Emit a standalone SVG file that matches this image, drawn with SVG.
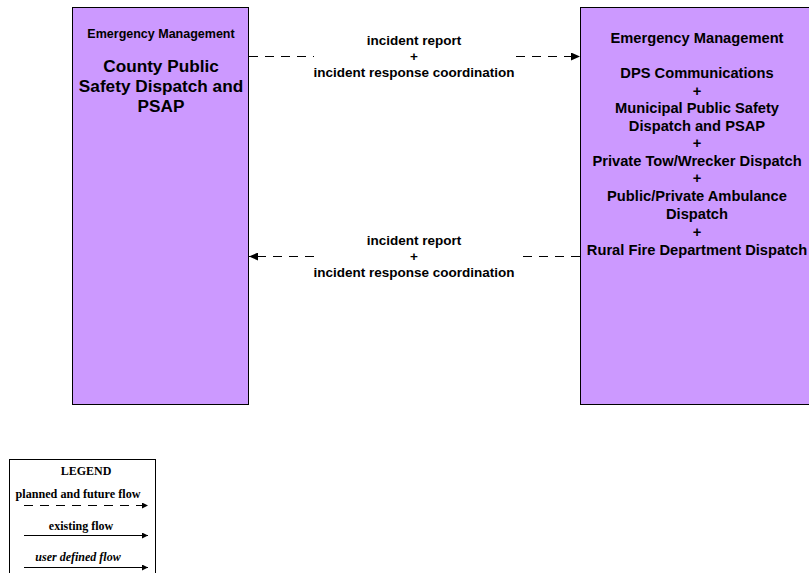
<svg xmlns="http://www.w3.org/2000/svg" width="809" height="573" viewBox="0 0 809 573">
<style>
.box{fill:#CC99FF;stroke:#000;stroke-width:1}
.t{font-family:"Liberation Sans",Arial,sans-serif;font-weight:bold;text-anchor:middle;fill:#000}
.lg{font-family:"Liberation Serif","Times New Roman",serif;font-weight:bold;text-anchor:middle;fill:#000;font-size:12px}
.dash{stroke:#000;stroke-width:1;fill:none;stroke-dasharray:9,7}
.solid{stroke:#000;stroke-width:1;fill:none}
</style>
<defs>
<marker id="ah" markerWidth="10" markerHeight="8" refX="9" refY="4" orient="auto" markerUnits="userSpaceOnUse">
<path d="M0,0 L9,4 L0,8 Z" fill="#000"/>
</marker>
<marker id="ahs" markerWidth="7" markerHeight="6" refX="6" refY="3" orient="auto" markerUnits="userSpaceOnUse">
<path d="M0,0 L6,3 L0,6 Z" fill="#000"/>
</marker>
</defs>
<g id="county">
<rect class="box" x="72.5" y="7.5" width="176" height="397"/>
<text class="t" x="161" y="38" font-size="12.5">Emergency Management</text>
<text class="t" x="161" y="72" font-size="17.2">County Public</text>
<text class="t" x="161" y="92" font-size="17.2">Safety Dispatch and</text>
<text class="t" x="161" y="112" font-size="17.2">PSAP</text>
</g>
<g id="emergency">
<rect class="box" x="580.5" y="7.5" width="234" height="397"/>
<text class="t" x="697" y="43" font-size="14.7">Emergency Management</text>
<text class="t" x="697" y="78" font-size="14.7">DPS Communications</text>
<text class="t" x="697" y="96" font-size="14.7">+</text>
<text class="t" x="697" y="113" font-size="14.7">Municipal Public Safety</text>
<text class="t" x="697" y="131" font-size="14.7">Dispatch and PSAP</text>
<text class="t" x="697" y="148" font-size="14.7">+</text>
<text class="t" x="697" y="166" font-size="14.7">Private Tow/Wrecker Dispatch</text>
<text class="t" x="697" y="183" font-size="14.7">+</text>
<text class="t" x="697" y="201" font-size="14.7">Public/Private Ambulance</text>
<text class="t" x="697" y="219" font-size="14.7">Dispatch</text>
<text class="t" x="697" y="237" font-size="14.7">+</text>
<text class="t" x="697" y="255" font-size="14.7">Rural Fire Department Dispatch</text>
</g>
<g id="connectors">
<path class="dash" d="M249,56.5 L314,56.5"/>
<path class="dash" d="M516,56.5 L580,56.5" marker-end="url(#ah)"/>
<text class="t" x="414" y="45" font-size="13.5">incident report</text>
<text class="t" x="414" y="61" font-size="13.5">+</text>
<text class="t" x="414" y="77" font-size="13.5">incident response coordination</text>
<path class="dash" d="M580,256.5 L516,256.5"/>
<path class="dash" d="M314,256.5 L249,256.5" marker-end="url(#ah)"/>
<text class="t" x="414" y="245" font-size="13.5">incident report</text>
<text class="t" x="414" y="261" font-size="13.5">+</text>
<text class="t" x="414" y="277" font-size="13.5">incident response coordination</text>
</g>
<g id="legend">
<rect x="9.5" y="459.5" width="146" height="120" fill="#fff" stroke="#000" stroke-width="1"/>
<text class="lg" x="86" y="475">LEGEND</text>
<text class="lg" x="78" y="498" textLength="125" lengthAdjust="spacingAndGlyphs">planned and future flow</text>
<path class="dash" d="M24,505.5 L148,505.5" stroke-dasharray="4,3" marker-end="url(#ahs)"/>
<text class="lg" x="81" y="530">existing flow</text>
<path class="solid" d="M24,535.5 L148,535.5" marker-end="url(#ahs)"/>
<text class="lg" x="78" y="561" font-style="italic">user defined flow</text>
<path class="solid" d="M24,567.5 L148,567.5" marker-end="url(#ahs)"/>
</g>
</svg>
